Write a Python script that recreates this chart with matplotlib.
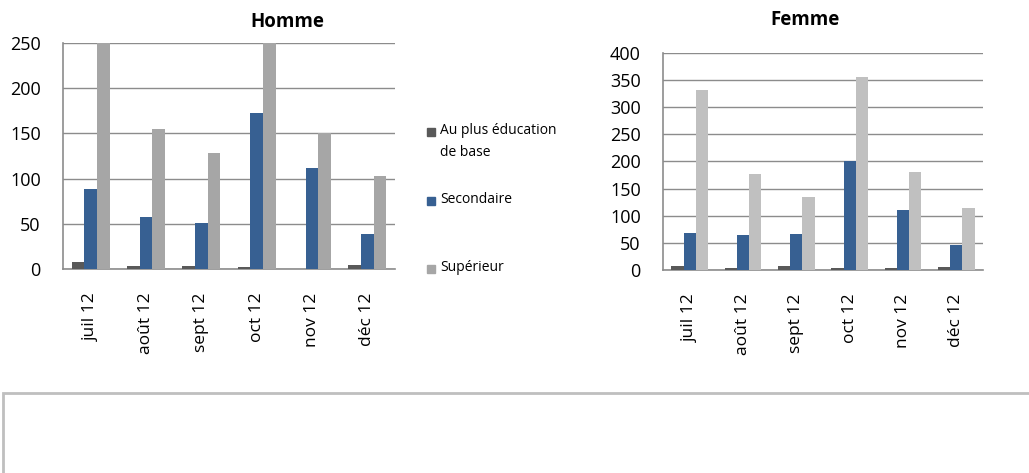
import matplotlib.pyplot as plt
import matplotlib.patches as mpatches
import numpy as np

plt.rcParams['font.family'] = ['Open Sans', 'DejaVu Sans']

# Data
mois = ["juil 12", "août 12", "sept 12", "oct 12", "nov 12", "déc 12"]
series = ["Au plus éducation\nde base", "Secondaire", "Supérieur"]

homme_base = [8, 3, 3, 2, 0, 4]
homme_sec = [89, 57, 51, 173, 112, 39]
homme_sup = [290, 155, 128, 300, 151, 103]   # juil / oct exceed axis max

femme_base = [8, 4, 7, 3, 3, 5]
femme_sec = [69, 64, 66, 201, 110, 46]
femme_sup = [331, 177, 134, 356, 180, 115]

c_base = "#595959"
c_sec = "#376092"
c_sup_h = "#A6A6A6"
c_sup_f = "#C0C0C0"

fig = plt.figure(figsize=(10.29, 4.73), dpi=100)


def draw(ax, base, sec, sup, sup_color, ymax, step):
    x = np.arange(len(mois))
    w = 0.23
    ax.bar(x - w, base, w, color=c_base, zorder=3)
    ax.bar(x, sec, w, color=c_sec, zorder=3)
    ax.bar(x + w, sup, w, color=sup_color, zorder=3)
    ax.set_xlim(-0.5, len(mois) - 0.5)
    ax.set_ylim(0, ymax)
    ax.set_yticks(np.arange(0, ymax + 1, step))
    ax.set_xticks(x)
    ax.set_xticklabels(mois, rotation=90, fontsize=12.5)
    ax.tick_params(axis='y', labelsize=13, length=0, pad=16)
    ax.tick_params(axis='x', length=0, pad=17)
    ax.grid(axis='y', color="#8C8C8C", linewidth=1, zorder=0)
    for s in ["top", "right"]:
        ax.spines[s].set_visible(False)
    for s in ["left", "bottom"]:
        ax.spines[s].set_color("#8C8C8C")
        ax.spines[s].set_linewidth(1.2)


ax1 = fig.add_axes([0.0612, 0.4313, 0.3227, 0.4777])
draw(ax1, homme_base, homme_sec, homme_sup, c_sup_h, 250, 50)
ax2 = fig.add_axes([0.6443, 0.4292, 0.3110, 0.4588])
draw(ax2, femme_base, femme_sec, femme_sup, c_sup_f, 400, 50)

fig.text(287 / 1029, 1 - 22 / 473, "Homme", ha="center", va="center",
         fontsize=13.5, fontweight="bold")
fig.text(805 / 1029, 1 - 20 / 473, "Femme", ha="center", va="center",
         fontsize=13.5, fontweight="bold")

# legend
leg_y = [132, 201, 269]
for col, lab, yy in zip([c_base, c_sec, c_sup_h], series, leg_y):
    fig.patches.append(mpatches.Rectangle((427 / 1029, 1 - (yy + 4) / 473),
                                          8 / 1029, 8 / 473, color=col,
                                          transform=fig.transFigure))
    fig.text(440 / 1029, 1 - (yy - 9) / 473, lab, ha="left", va="top",
             fontsize=10, linespacing=1.6)

# empty box below
fig.patches.append(mpatches.Rectangle((3 / 1029, -0.1), 1.1, 1 - 393 / 473 + 0.1,
                                      fill=False, edgecolor="#BFBFBF",
                                      linewidth=2, transform=fig.transFigure))

fig.savefig("out.png", dpi=100)
